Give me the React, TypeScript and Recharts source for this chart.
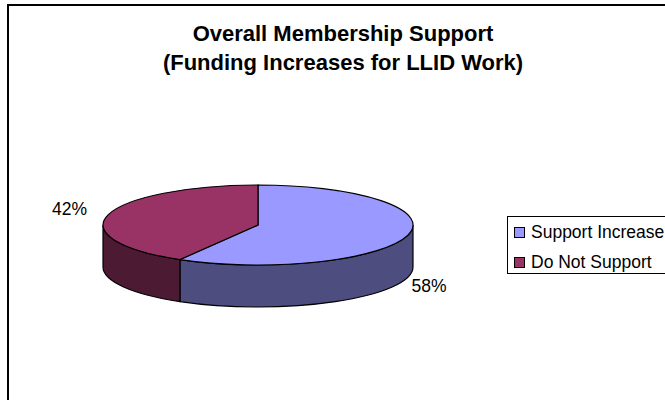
import { Legend, Pie, PieChart } from "recharts";

const categories = ["Support Increase", "Do Not Support"];
const values = [58.4, 41.6];
const topColors = ["#9999FF", "#993366"];
const wallColors = ["#4D4D80", "#4D1A33"];
const titleLines = ["Overall Membership Support", "(Funding Increases for LLID Work)"];

const data = categories.map((name, i) => ({
  name,
  value: values[i],
  fill: topColors[i],
  wall: wallColors[i],
}));

const RADIAN = Math.PI / 180;
const FONT = "'Liberation Sans', Arial, sans-serif";
const SQUASH = 40 / 155;
const DEPTH = 42;

const point = (cx: number, cy: number, r: number, angle: number, dy = 0) =>
  `${cx + r * Math.cos(angle * RADIAN)} ${cy - r * SQUASH * Math.sin(angle * RADIAN) + dy}`;

const renderSlice = (props: any) => {
  const { cx, cy, outerRadius: r, startAngle, endAngle, fill, payload } = props;
  const ry = r * SQUASH;
  const large = Math.abs(startAngle - endAngle) > 180 ? 1 : 0;
  const wallFrom = Math.min(startAngle, 0);
  const wallTo = Math.max(endAngle, -180);

  return (
    <g>
      {wallFrom > wallTo && (
        <path
          d={`M ${point(cx, cy, r, wallFrom)} A ${r} ${ry} 0 0 1 ${point(cx, cy, r, wallTo)}
              L ${point(cx, cy, r, wallTo, DEPTH)} A ${r} ${ry} 0 0 0 ${point(cx, cy, r, wallFrom, DEPTH)} Z`}
          fill={payload.wall}
          stroke="#000"
          strokeWidth={1.2}
        />
      )}
      <path
        d={`M ${cx} ${cy} L ${point(cx, cy, r, startAngle)} A ${r} ${ry} 0 ${large} 1 ${point(cx, cy, r, endAngle)} Z`}
        fill={fill}
        stroke="#000"
        strokeWidth={1.2}
      />
    </g>
  );
};

const renderLabel = ({ cx, cy, midAngle, percent }: any) => {
  const sin = Math.sin(midAngle * RADIAN);
  const cos = Math.cos(midAngle * RADIAN);
  const x = cx + (cos < 0 ? 177 : 159) * cos;
  const y = cy - 60 * sin + (sin < 0 ? DEPTH + 3 : 0);
  return (
    <text
      x={x}
      y={y}
      fill="#000"
      fontFamily={FONT}
      fontSize={17.5}
      textAnchor={cos < 0 ? "end" : "start"}
      dominantBaseline="central"
    >
      {`${(percent * 100).toFixed(0)}%`}
    </text>
  );
};

const renderLegend = () => (
  <div
    style={{
      width: 170,
      height: 58,
      boxSizing: "border-box",
      border: "1.5px solid #000",
      borderRight: "none",
      background: "#fff",
      fontFamily: FONT,
      fontSize: 17.5,
      paddingLeft: 6,
      paddingTop: 1,
    }}
  >
    {data.map((entry) => (
      <div key={entry.name} style={{ display: "flex", alignItems: "center", height: 29.5, whiteSpace: "nowrap" }}>
        <span
          style={{
            width: 9,
            height: 9,
            marginRight: 6,
            background: entry.fill,
            border: "1.5px solid #000",
            flex: "none",
          }}
        />
        {entry.name}
      </div>
    ))}
  </div>
);

export default function App() {
  return (
    <div style={{ position: "absolute", left: 0, top: 0, width: 665, height: 400, overflow: "hidden", background: "#fff" }}>
      <div
        style={{
          position: "absolute",
          left: 7,
          top: 4,
          width: 700,
          height: 440,
          border: "2px solid #000",
        }}
      />
      <PieChart
        width={665}
        height={400}
        margin={{ top: 0, right: 0, bottom: 0, left: 0 }}
        style={{ position: "absolute", left: 0, top: 0 }}
      >
        <text x={343} y={40.5} textAnchor="middle" fontFamily={FONT} fontWeight="bold" fontSize={22} fill="#000">
          {titleLines[0]}
        </text>
        <text x={343} y={70} textAnchor="middle" fontFamily={FONT} fontWeight="bold" fontSize={22} fill="#000">
          {titleLines[1]}
        </text>
        <Pie
          data={data}
          dataKey="value"
          nameKey="name"
          cx={258}
          cy={225}
          outerRadius={155}
          startAngle={90}
          endAngle={-270}
          labelLine={false}
          label={renderLabel}
          shape={renderSlice}
          isAnimationActive={false}
        />
        <Legend
          content={renderLegend}
          layout="vertical"
          align="right"
          verticalAlign="top"
          wrapperStyle={{ left: 507, top: 216, width: 170, right: "auto" }}
        />
      </PieChart>
    </div>
  );
}
